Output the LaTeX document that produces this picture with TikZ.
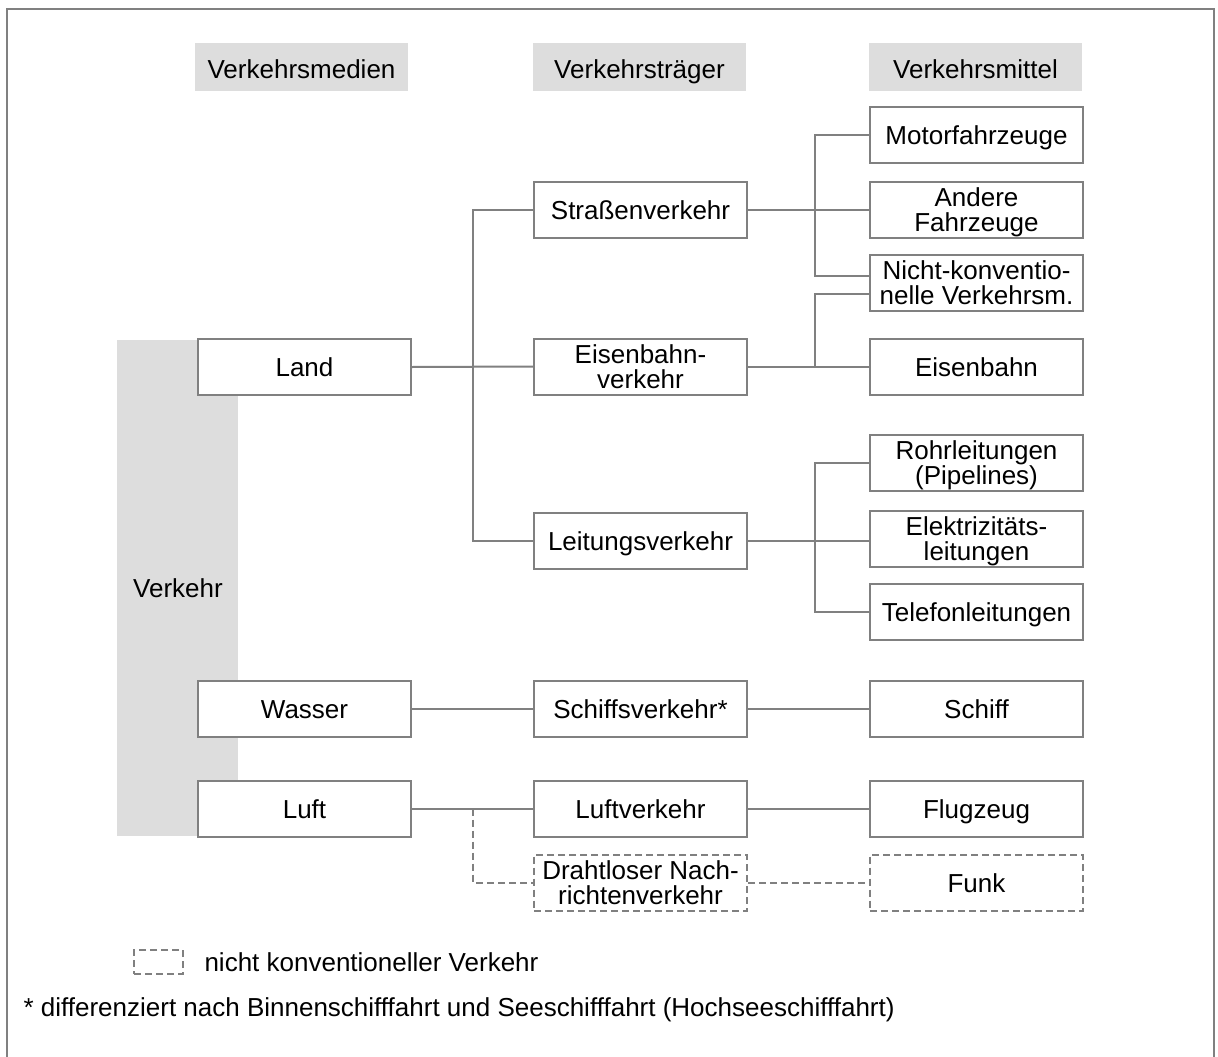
\documentclass[tikz,border=0pt]{standalone}
\usepackage{fontspec}
\setmainfont{Liberation Sans}
\usetikzlibrary{calc}
\definecolor{linegrey}{RGB}{128,128,128}
\definecolor{panelgrey}{RGB}{221,221,221}
\tikzset{
  txt/.style={font=\fontsize{26}{25}\selectfont, text=black},
  bx/.style={txt, draw=linegrey, line width=2pt, fill=white, minimum width=213pt,
             minimum height=56pt, inner sep=0pt, align=center, text depth=0pt},
  one/.style={text height=19pt, text depth=0pt},
  dbx/.style={bx, dash pattern=on 7pt off 4pt},
  head/.style={txt, fill=panelgrey, minimum width=213pt, minimum height=48pt, inner sep=0pt,
               text height=23pt, text depth=0pt},
  ln/.style={draw=linegrey, line width=2pt},
  dln/.style={ln, dash pattern=on 7pt off 4pt},
}
\begin{document}
\begin{tikzpicture}[x=1pt,y=-1pt]
\useasboundingbox (0,0) rectangle (1218,1057);
% frame (open at the bottom edge)
\draw[ln] (7,1060) -- (7,9) -- (1214,9) -- (1214,1060);

% column headings
\node[head] (h1) at (301.5,67) {Verkehrsmedien};
\node[head] (h2) at (639.5,67) {Verkehrsträger};
\node[head] (h3) at (975.5,67) {Verkehrsmittel};

% shaded band behind the media column
\fill[panelgrey] (117,340) rectangle (238,836);
\node[txt] (verkehr) at (178,588) {Verkehr};

% media
\node[bx,one] (land)   at (304.5,367)   {Land};
\node[bx,one] (wasser) at (304.5,709)   {Wasser};
\node[bx,one] (luft)   at (304.5,808.5) {Luft};

% carriers
\node[bx,one]  (strasse) at (640.5,210)   {Straßenverkehr};
\node[bx]      (eisv)    at (640.5,366.5) {Eisenbahn-\\verkehr};
\node[bx,one]  (leit)    at (640.5,541)   {Leitungsverkehr};
\node[bx,one]  (schiffv) at (640.5,709)   {Schiffsverkehr*};
\node[bx,one]  (luftv)   at (640.5,808.5) {Luftverkehr};
\node[dbx]     (draht)   at (640.5,882.5) {Drahtloser Nach-\\richtenverkehr};

% means of transport
\node[bx,one]  (motor)  at (976.5,135)   {Motorfahrzeuge};
\node[bx]      (andere) at (976.5,210)   {Andere\\Fahrzeuge};
\node[bx]      (nicht)  at (976.5,283)   {Nicht-konventio-\\nelle Verkehrsm.};
\node[bx,one]  (bahn)   at (976.5,366.5) {Eisenbahn};
\node[bx]      (rohr)   at (976.5,463)   {Rohrleitungen\\(Pipelines)};
\node[bx]      (elek)   at (976.5,539)   {Elektrizitäts-\\leitungen};
\node[bx,one]  (tel)    at (976.5,612)   {Telefonleitungen};
\node[bx,one]  (schiff) at (976.5,709)   {Schiff};
\node[bx,one]  (flug)   at (976.5,808.5) {Flugzeug};
\node[dbx,one] (funk)   at (976.5,882.5) {Funk};

% junction points
\coordinate (jland) at (473,367);
\coordinate (jstr)  at (815,210);
\coordinate (jeis)  at (815,366.5);
\coordinate (jleit) at (815,541);
\coordinate (jluft) at (473,808.5);

% land branches
\draw[ln] (land.east) -- (eisv.west);
\draw[ln] (strasse.west) -| (jland) |- (leit.west);

% road
\draw[ln] (strasse.east) -- (andere.west);
\draw[ln] (motor.west) -| (jstr) |- ($(nicht.west)+(0,-7)$);

% rail
\draw[ln] (eisv.east) -- (bahn.west);
\draw[ln] ($(nicht.west)+(0,11)$) -| (jeis);

% pipelines and cables
\draw[ln] (leit.east) -- (leit.east -| elek.west);
\draw[ln] (rohr.west) -| (jleit) |- (tel.west);

% water and air
\draw[ln] (wasser.east) -- (schiffv.west);
\draw[ln] (schiffv.east) -- (schiff.west);
\draw[ln] (luft.east) -- (luftv.west);
\draw[ln] (luftv.east) -- (flug.west);
\draw[dln] (jluft) |- (draht.west);
\draw[dln] (draht.east) -- (funk.west);

% legend and note
\node[dbx, minimum width=49pt, minimum height=24pt] (legbox) at (158.5,962) {};
\node[txt, anchor=west] (legtext) at (201,962) {nicht konventioneller Verkehr};
\node[txt, anchor=west] (note) at (20,1010) {* differenziert nach Binnenschifffahrt und Seeschifffahrt (Hochseeschifffahrt)};
\end{tikzpicture}
\end{document}
